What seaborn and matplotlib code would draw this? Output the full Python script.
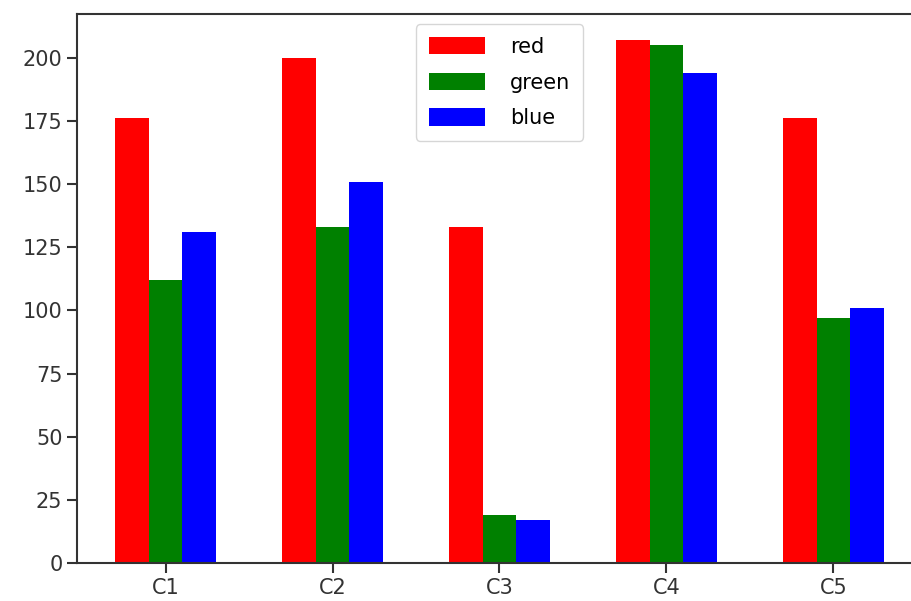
import matplotlib
matplotlib.use("Agg")
import matplotlib.pyplot as plt
import seaborn as sns
import pandas as pd

categories = ["C1", "C2", "C3", "C4", "C5"]
red = [176, 200, 133, 207, 176]
green = [112, 133, 19, 205, 97]
blue = [131, 151, 17, 194, 101]

df = pd.DataFrame({
    "cat": categories * 3,
    "value": red + green + blue,
    "series": ["red"] * 5 + ["green"] * 5 + ["blue"] * 5,
})

plt.rcParams["font.family"] = ["DejaVu Sans"]
plt.rcParams["font.size"] = 14

fig = plt.figure(figsize=(9.12, 6.01), dpi=100)
ax = fig.add_axes([77 / 912, 38 / 601, 845 / 912, 549 / 601])

sns.barplot(data=df, x="cat", y="value", hue="series",
            palette={"red": "red", "green": "green", "blue": "blue"},
            saturation=1, width=0.6, ax=ax)

ax.set_xlim(-0.53, 4.53)
ax.set_ylim(0, 217.35)
ax.set_yticks([0, 25, 50, 75, 100, 125, 150, 175, 200])
ax.set_xlabel("")
ax.set_ylabel("")
for s in ax.spines.values():
    s.set_linewidth(1.5)
    s.set_color("#333333")
# the reference is cropped on the right
ax.spines["right"].set_visible(False)
ax.tick_params(length=7, width=1.5, labelsize=15, colors="#333333")

handles, labels = ax.get_legend_handles_labels()
ax.legend(handles, labels, loc="upper center", fontsize=15,
          handlelength=2.7, handleheight=0.9, labelspacing=0.75,
          handletextpad=1.2, borderpad=0.6, framealpha=0.8)

fig.savefig("out.png", dpi=100)
